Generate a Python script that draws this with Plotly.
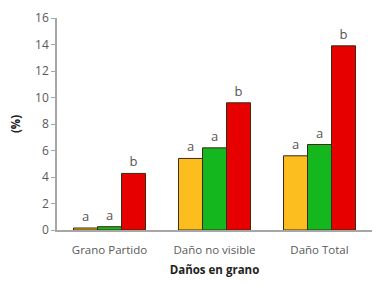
import plotly.graph_objects as go

categories = ["Grano Partido", "Daño no visible", "Daño Total"]
serie_amarilla = [0.15, 5.4, 5.6]
serie_verde = [0.25, 6.2, 6.45]
serie_roja = [4.27, 9.6, 13.9]
letras_amarilla = ["a", "a", "a"]
letras_verde = ["a", "a", "a"]
letras_roja = ["b", "b", "b"]
y_ticks = [0, 2, 4, 6, 8, 10, 12, 14, 16]

colors = ["#FBBE1E", "#14B81E", "#E60000"]
series = [serie_amarilla, serie_verde, serie_roja]
letters = [letras_amarilla, letras_verde, letras_roja]

fig = go.Figure()
for vals, col, let in zip(series, colors, letters):
    fig.add_trace(go.Bar(
        x=categories, y=vals, marker=dict(color=col, line=dict(color="#3a2a10", width=1)),
        text=let, textposition="outside", cliponaxis=False,
        textfont=dict(family="Open Sans", size=13, color="#555555"),
        showlegend=False,
    ))

fig.update_layout(
    width=380, height=284, barmode="group", bargap=0.314, bargroupgap=0,
    margin=dict(l=57, r=8, t=18, b=54),
    paper_bgcolor="white", plot_bgcolor="white",
    font=dict(family="Open Sans", size=12, color="#595959"),
    uniformtext=dict(minsize=12, mode="show"),
)
fig.update_xaxes(
    showline=True, linecolor="#A6A6A6", linewidth=1.5, ticks="",
    ticklabelstandoff=8,
    tickfont=dict(size=11.5, color="#595959"),
    title=dict(text="<b>Daños en grano</b>", font=dict(size=11.5, color="#222222"), standoff=10),
    range=[-0.5, 2.5],
)
fig.update_yaxes(
    range=[0, 16], tickvals=y_ticks, showgrid=False, zeroline=False,
    showline=True, linecolor="#A6A6A6", linewidth=1.5, ticks="outside", ticklen=4,
    tickcolor="#A6A6A6", tickfont=dict(size=12, color="#595959"),
    title=dict(text="<b>(%)</b>", font=dict(size=11.5, color="#222222"), standoff=12),
)
fig.write_html("out.html")
